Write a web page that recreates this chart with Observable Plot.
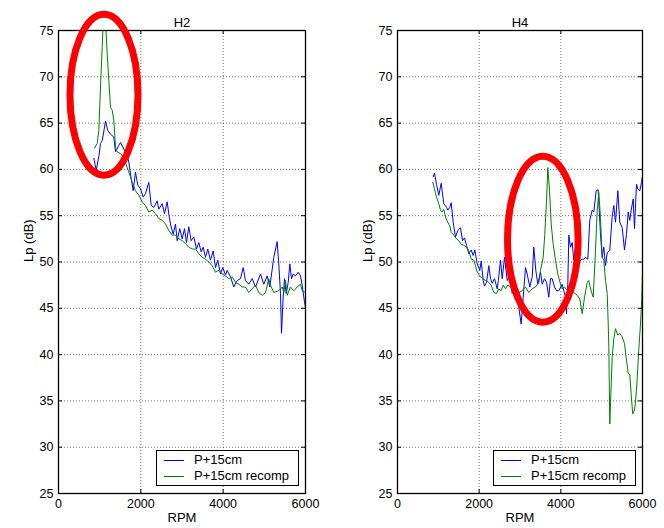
<!DOCTYPE html>
<html><head><meta charset="utf-8">
<script src="https://cdn.jsdelivr.net/npm/d3@7"></script>
<script src="https://cdn.jsdelivr.net/npm/@observablehq/plot@0.6"></script>
<style>
html,body{margin:0;padding:0;background:#fff;}
#fig{position:relative;width:664px;height:528px;overflow:hidden;font-family:"Liberation Sans",Arial,sans-serif;}
.panel{position:absolute;top:0;}
.legend{position:absolute;border:1px solid #000;background:#fff;box-sizing:border-box;font-size:13px;color:#000;}
.legend .ln{position:absolute;height:1px;width:20px;}
.legend .tx{position:absolute;line-height:16px;white-space:nowrap;}
</style>
</head><body><div id="fig"></div>
<script>
// ---- data ----
const seriesNames = ["P+15cm", "P+15cm recomp"];
const seriesColors = ["#0000ff", "#008000"];
const panelTitles = ["H2", "H4"];
const xTicks = [0, 2000, 4000, 6000];
const yTicks = [25, 30, 35, 40, 45, 50, 55, 60, 65, 70, 75];

const h2BlueRpm = [858,916,984,1020,1062,1142,1198,1263,1343,1385,1465,1506,1586,1669,1708,1749,1815,1870,1926,1992,2057,2113,2193,2252,2315,2397,2436,2519,2575,2640,2679,2720,2786,2842,2883,2946,3005,3060,3109,3165,3223,3287,3352,3408,3466,3515,3571,3626,3692,3758,3814,3869,3935,3991,4056,4098,4178,4258,4341,4421,4487,4542,4622,4705,4785,4907,4987,5069,5133,5230,5312,5351,5393,5417,5458,5490,5531,5580,5619,5660,5701,5757,5823,5878,5919,5975,6000];
const h2BlueDb = [61.2,59.9,61.5,62.8,63.1,65.2,64.2,63.8,63.5,61.9,62.6,62.9,62.2,61.5,60.8,59.5,57.7,59.7,58.3,57.9,57.0,57.4,58.6,56.1,55.9,56.6,55.7,56.3,55.2,56.5,55.2,54.1,53.0,54.1,52.3,53.6,52.5,53.6,52.1,53.8,52.3,52.7,51.4,52.1,51.1,51.6,50.5,51.4,50.2,51.2,49.4,50.2,48.7,49.4,48.6,49.1,48.4,47.3,48.0,48.2,49.4,48.0,47.6,48.2,47.3,48.7,47.6,48.5,47.3,50.5,52.2,49.8,46.6,42.3,46.2,48.2,46.6,47.8,49.8,48.2,48.7,48.5,48.9,48.5,47.5,45.7,45.1];

const h2GreenRpm = [874,940,979,1020,1062,1105,1142,1183,1222,1263,1304,1343,1385,1426,1506,1586,1669,1749,1791,1870,1950,2033,2113,2193,2276,2356,2436,2519,2599,2679,2762,2842,2922,3005,3085,3165,3248,3328,3408,3490,3571,3651,3733,3814,3894,3976,4056,4137,4219,4299,4380,4462,4542,4622,4705,4785,4865,4948,5028,5108,5150,5230,5351,5434,5474,5514,5555,5634,5717,5797,5878,5919,6000];
const h2GreenDb = [62.3,62.8,64.2,68.9,73.2,78.5,76.0,72.5,69.6,66.7,66.4,65.3,62.4,61.9,61.7,61.3,60.2,59.2,58.6,57.7,57.2,56.5,56.1,55.4,55.6,55.2,54.7,54.5,54.1,53.4,52.9,52.9,52.5,52.3,52.0,51.6,51.4,51.4,50.9,50.5,50.3,50.0,49.6,48.9,49.1,48.7,48.5,48.2,48.4,47.8,47.6,47.3,47.3,46.7,47.1,47.5,46.7,46.4,46.7,48.2,47.5,46.7,46.9,47.3,46.7,48.0,46.4,47.3,46.9,47.3,47.6,46.9,46.7];

const h4BlueRpm = [874,906,955,1011,1070,1134,1200,1232,1281,1315,1364,1420,1477,1543,1592,1641,1690,1746,1805,1854,1893,1952,2016,2050,2099,2131,2180,2236,2278,2319,2376,2442,2470,2523,2564,2621,2687,2750,2809,2865,2914,2971,3029,3078,3135,3176,3240,3299,3338,3387,3436,3502,3544,3600,3649,3705,3747,3789,3845,3894,3950,4034,4073,4114,4139,4171,4195,4237,4278,4318,4359,4401,4440,4482,4523,4562,4604,4661,4709,4768,4807,4866,4915,4971,5013,5052,5094,5136,5199,5258,5297,5339,5396,5444,5503,5559,5608,5650,5689,5723,5772,5804,5853,5885,5934,5976,6000];
const h4BlueDb = [59.2,59.6,58.4,57.2,58.5,56.3,55.9,55.6,55.9,56.4,54.3,52.7,53.4,53.7,52.3,52.6,51.8,50.9,51.3,50.7,51.3,49.8,49.1,50.1,48.0,47.4,47.8,49.6,48.2,47.7,48.2,47.1,48.0,50.2,48.2,50.5,48.0,48.5,46.6,47.6,46.9,45.1,43.3,46.2,49.4,48.7,47.3,48.4,51.6,49.1,47.6,48.9,47.6,48.2,47.8,46.2,48.2,48.2,47.3,46.9,46.9,47.6,46.9,46.2,44.4,47.6,52.9,51.6,52.1,50.2,51.6,51.3,49.8,50.2,50.3,50.3,50.5,50.3,54.5,55.6,55.4,57.7,57.8,53.0,50.5,51.6,49.6,51.0,51.3,54.9,56.1,54.3,57.7,54.3,53.7,51.3,53.0,55.4,54.5,55.6,56.8,53.6,58.4,57.9,57.7,58.6,59.3];

const h4GreenRpm = [864,906,955,1011,1053,1095,1134,1176,1232,1281,1315,1379,1445,1501,1560,1624,1690,1746,1805,1869,1910,1952,2016,2074,2155,2236,2295,2358,2425,2481,2540,2589,2645,2701,2767,2890,2971,3054,3135,3216,3299,3380,3460,3502,3568,3607,3649,3681,3723,3764,3813,3869,3926,3992,4034,4090,4156,4237,4318,4401,4465,4523,4580,4646,4685,4727,4793,4849,4891,4930,4971,5013,5052,5094,5136,5160,5175,5199,5258,5297,5339,5396,5444,5503,5559,5608,5650,5689,5728,5760,5804,5833,5868,5907,5951,5980,6000];
const h4GreenDb = [58.6,57.9,57.0,56.3,55.6,55.4,55.7,54.8,54.3,53.9,53.2,52.9,52.5,52.3,51.9,51.8,51.6,51.2,50.3,50.2,49.6,48.9,48.5,48.2,48.0,47.8,47.5,46.7,46.6,47.1,46.9,47.5,47.1,47.5,47.3,46.9,46.7,46.9,47.3,46.7,47.1,47.3,47.8,49.1,50.5,53.0,56.6,60.2,57.7,54.1,51.9,50.2,48.7,47.6,47.1,47.3,46.9,46.9,46.7,46.4,46.0,44.4,46.2,47.8,48.0,47.1,46.2,51.3,55.6,57.5,54.8,50.5,50.2,48.0,46.6,43.4,40.8,32.5,39.7,41.7,42.8,42.1,42.3,41.9,41.2,39.4,38.0,37.8,35.4,33.6,34.0,35.1,37.2,40.4,43.3,45.8,48.7];

// annotation ellipses (centre and half-axes in data units)
const ellipseCx = [1117, 3571];
const ellipseCy = [68.0, 52.4];
const ellipseRx = [826, 864];
const ellipseRy = [8.69, 8.96];

// ---- drawing ----
const zipRows = (xs, ys, s) => xs.map((x, i) => ({rpm: x, db: ys[i], s}));
const panels = [
  {rows: [...zipRows(h2BlueRpm, h2BlueDb, seriesNames[0]), ...zipRows(h2GreenRpm, h2GreenDb, seriesNames[1])], left: 0, ml: 58, mr: 27},
  {rows: [...zipRows(h4BlueRpm, h4BlueDb, seriesNames[0]), ...zipRows(h4GreenRpm, h4GreenDb, seriesNames[1])], left: 332, ml: 65, mr: 22}
];
const fig = document.getElementById("fig");
const W = 332, H = 528, MT = 30, MB = 35;

panels.forEach((p, k) => {
  const fw = W - p.ml - p.mr, fh = H - MT - MB;
  const plot = Plot.plot({
    width: W, height: H,
    marginLeft: p.ml, marginRight: p.mr, marginTop: MT, marginBottom: MB,
    x: {domain: [0, 6000]},
    y: {domain: [25, 75]},
    color: {domain: seriesNames, range: seriesColors},
    style: {fontFamily: '"Liberation Sans", Arial, sans-serif', fontSize: "12.5px", background: "transparent", color: "#000"},
    marks: [
      Plot.gridX(xTicks.slice(1, -1), {stroke: "#000", strokeOpacity: 0.55, strokeDasharray: "1,2"}),
      Plot.gridY(yTicks.slice(1, -1), {stroke: "#000", strokeOpacity: 0.55, strokeDasharray: "1,2"}),
      Plot.line(p.rows, {x: "rpm", y: "db", z: "s", stroke: "s", strokeWidth: 1, clip: true}),
      Plot.ruleX(xTicks, {insetTop: fh - 4, stroke: "#000"}),
      Plot.ruleX(xTicks, {insetBottom: fh - 4, stroke: "#000"}),
      Plot.ruleY(yTicks, {insetRight: fw - 4, stroke: "#000"}),
      Plot.ruleY(yTicks, {insetLeft: fw - 4, stroke: "#000"}),
      Plot.frame({stroke: "#000", strokeWidth: 1.3}),
      Plot.axisX(xTicks, {anchor: "bottom", tickSize: 0, tickPadding: 6, label: null, tickFormat: d => String(d)}),
      Plot.axisY(yTicks, {anchor: "left", tickSize: 0, tickPadding: 5, label: null, tickFormat: d => String(d)}),
      Plot.text([panelTitles[k]], {frameAnchor: "top", dy: -13, fontSize: 13}),
      Plot.text(["RPM"], {frameAnchor: "bottom", dy: 28, fontSize: 13}),
      Plot.text(["Lp (dB)"], {frameAnchor: "left", dx: -30, rotate: -90, fontSize: 13})
    ]
  });
  plot.classList.add("panel");
  plot.style.left = p.left + "px";
  plot.style.overflow = "visible";
  fig.appendChild(plot);

  // red annotation ellipse placed through the plot's own scales
  const sx = plot.scale("x"), sy = plot.scale("y");
  const cx = sx.apply(ellipseCx[k]), cy = sy.apply(ellipseCy[k]);
  d3.select(plot).append("ellipse")
    .attr("cx", cx).attr("cy", cy)
    .attr("rx", sx.apply(ellipseCx[k] + ellipseRx[k]) - cx)
    .attr("ry", cy - sy.apply(ellipseCy[k] + ellipseRy[k]))
    .attr("fill", "none").attr("stroke", "#ff0000").attr("stroke-width", 7);

  // legend box inside the axes, lower right
  const box = document.createElement("div");
  box.className = "legend";
  const axRight = p.left + W - p.mr;
  box.style.left = (axRight - 6 - 143) + "px";
  box.style.top = "450px";
  box.style.width = "143px";
  box.style.height = "36px";
  seriesNames.forEach((name, i) => {
    const ln = document.createElement("div");
    ln.className = "ln";
    ln.style.left = "7px";
    ln.style.top = (9 + 16 * i) + "px";
    ln.style.background = seriesColors[i];
    const tx = document.createElement("div");
    tx.className = "tx";
    tx.style.left = "37px";
    tx.style.top = (1 + 16 * i) + "px";
    tx.textContent = name;
    box.appendChild(ln); box.appendChild(tx);
  });
  fig.appendChild(box);
});
</script></body></html>
